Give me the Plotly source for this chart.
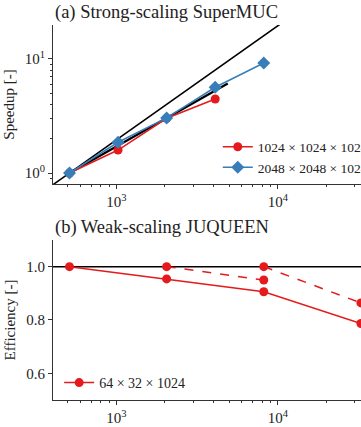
import plotly.graph_objects as go

# ---------------- data ----------------
# (a) strong scaling SuperMUC
cores_a_red = [512, 1024, 2048, 4096]
speedup_red = [1.0, 1.59, 3.02, 4.46]
cores_a_blue = [512, 1024, 2048, 4096, 8192]
speedup_blue = [1.0, 1.86, 3.04, 5.65, 9.22]
ideal_x = [256, 32768]
ideal_y = [0.5, 64.0]
fit_x = [512, 4900]
fit_y = [1.0, 6.1]
label_red = "1024 × 1024 × 1024"
label_blue = "2048 × 2048 × 1024"

# (b) weak scaling JUQUEEN
cores_b = [512, 2048, 8192, 32768]
eff_solid = [1.0, 0.954, 0.906, 0.787]
dash1_x = [2048, 8192]
dash1_y = [1.0, 0.95]
dash2_x = [8192, 32768]
dash2_y = [1.0, 0.864]
label_b = "64 × 32 × 1024"

xticks = [1000, 10000]
xticktext = ["10<sup>3</sup>", "10<sup>4</sup>"]
xminor = [500, 600, 700, 800, 900, 2000, 3000, 4000, 5000, 6000, 7000, 8000, 9000, 20000, 30000]
yticks_a = [1, 10]
yticktext_a = ["10<sup>0</sup>", "10<sup>1</sup>"]
yminor_a = [0.9, 2, 3, 4, 5, 6, 7, 8, 9]
yticks_b = [0.6, 0.8, 1.0]
yticktext_b = ["0.6", "0.8", "1.0"]

RED = "#e41a1c"
BLUE = "#377eb8"
FONT = "Liberation Serif"

fig = go.Figure()

# panel (a)
fig.add_trace(go.Scatter(x=ideal_x, y=ideal_y, mode="lines", line=dict(color="black", width=1.6),
                         showlegend=False, xaxis="x", yaxis="y"))
fig.add_trace(go.Scatter(x=fit_x, y=fit_y, mode="lines", line=dict(color="black", width=2.2),
                         showlegend=False, xaxis="x", yaxis="y"))
fig.add_trace(go.Scatter(x=cores_a_red, y=speedup_red, mode="lines+markers", name=label_red,
                         line=dict(color=RED, width=1.5), marker=dict(color=RED, size=9, symbol="circle"),
                         xaxis="x", yaxis="y", legend="legend"))
fig.add_trace(go.Scatter(x=cores_a_blue, y=speedup_blue, mode="lines+markers", name=label_blue,
                         line=dict(color=BLUE, width=1.5), marker=dict(color=BLUE, size=10, symbol="diamond"),
                         xaxis="x", yaxis="y", legend="legend"))

# panel (b)
fig.add_trace(go.Scatter(x=cores_b, y=eff_solid, mode="lines+markers", name=label_b,
                         line=dict(color=RED, width=1.5), marker=dict(color=RED, size=9),
                         cliponaxis=False, xaxis="x2", yaxis="y2", legend="legend2"))
fig.add_trace(go.Scatter(x=dash1_x, y=dash1_y, mode="lines+markers", showlegend=False,
                         line=dict(color=RED, width=1.5, dash="dash"), marker=dict(color=RED, size=9),
                         cliponaxis=False, xaxis="x2", yaxis="y2"))
fig.add_trace(go.Scatter(x=dash2_x, y=dash2_y, mode="lines+markers", showlegend=False,
                         line=dict(color=RED, width=1.5, dash="dash"), marker=dict(color=RED, size=9),
                         cliponaxis=False, xaxis="x2", yaxis="y2"))

fig.add_shape(type="line", xref="x2 domain", yref="y2", x0=0, x1=1, y0=1.0, y1=1.0,
              line=dict(color="black", width=1.5), layer="below")

axis_common = dict(showline=True, linecolor="#333", linewidth=1, ticks="outside", ticklen=4,
                   tickcolor="#333", showgrid=False, zeroline=False,
                   tickfont=dict(family=FONT, size=15, color="#222"))

xr = [2.607, 4.516]
fig.update_layout(
    width=361, height=427,
    margin=dict(l=53, r=0, t=25, b=27, autoexpand=False),
    paper_bgcolor="white", plot_bgcolor="white",
    font=dict(family=FONT, size=14, color="#222"),
    xaxis=dict(type="log", range=xr, domain=[0, 1], anchor="y", tickvals=xticks, ticktext=xticktext,
               minor=dict(ticks="outside", ticklen=2, tickcolor="#333", tickvals=xminor), **axis_common),
    yaxis=dict(type="log", range=[-0.0965, 1.298], domain=[0.576, 1.0], anchor="x",
               tickvals=yticks_a, ticktext=yticktext_a,
               minor=dict(ticks="outside", ticklen=2, tickcolor="#333", tickvals=yminor_a),
               title=dict(text="Speedup [-]", font=dict(family=FONT, size=15), standoff=6), **axis_common),
    xaxis2=dict(type="log", range=xr, domain=[0, 1], anchor="y2", tickvals=xticks, ticktext=xticktext,
                minor=dict(ticks="outside", ticklen=2, tickcolor="#333", tickvals=xminor), **axis_common),
    yaxis2=dict(range=[0.5, 1.1], domain=[0, 0.4267], anchor="x2",
                tickvals=yticks_b, ticktext=yticktext_b,
                title=dict(text="Efficiency [-]", font=dict(family=FONT, size=15), standoff=6), **axis_common),
    legend=dict(x=0.535, y=0.716, xanchor="left", yanchor="top", bgcolor="rgba(0,0,0,0)",
                font=dict(family=FONT, size=13.5), tracegroupgap=0),
    legend2=dict(x=0.02, y=0.088, xanchor="left", yanchor="top", bgcolor="rgba(0,0,0,0)",
                 font=dict(family=FONT, size=14)),
    annotations=[
        dict(text="(a) Strong-scaling SuperMUC", xref="paper", yref="paper", x=0, y=1.0,
             xanchor="left", yanchor="bottom", showarrow=False,
             font=dict(family=FONT, size=18.5, color="#222")),
        dict(text="(b) Weak-scaling JUQUEEN", xref="paper", yref="paper", x=0, y=0.4267,
             xanchor="left", yanchor="bottom", showarrow=False,
             font=dict(family=FONT, size=18.5, color="#222")),
    ],
)

fig.write_html("out.html")
